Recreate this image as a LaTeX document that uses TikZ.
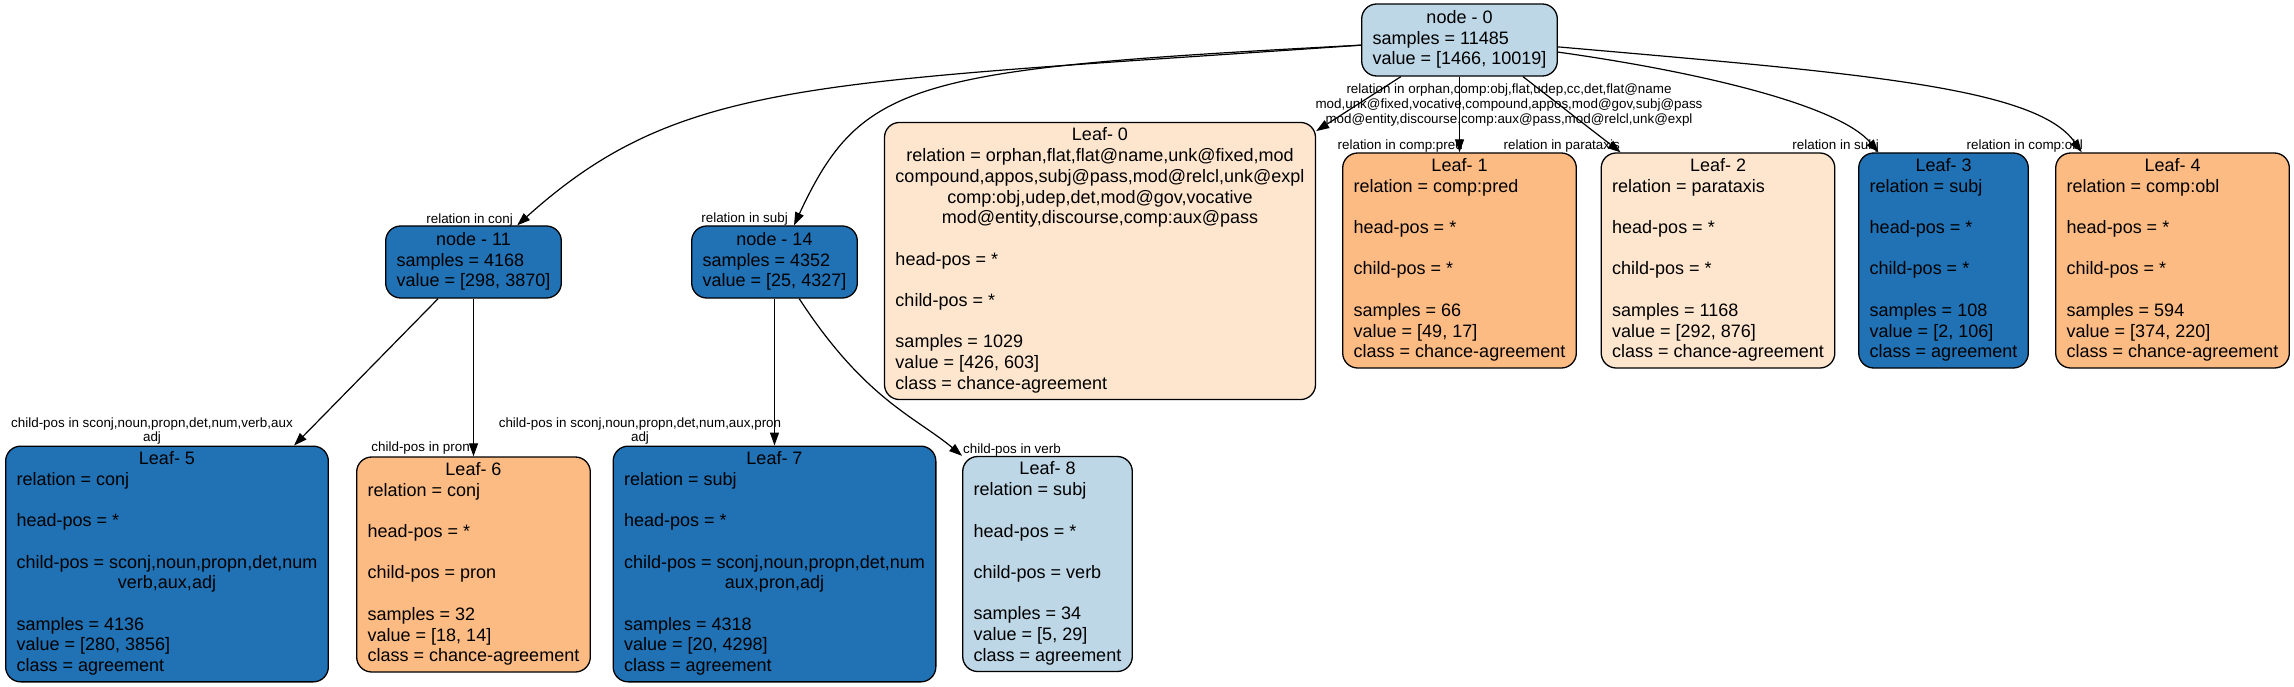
\documentclass[tikz,border=0pt]{standalone}
\usepackage{fontspec}
\setmainfont{Liberation Sans}
\usetikzlibrary{arrows.meta}
\definecolor{paleblue}{HTML}{BDD7E7}
\definecolor{deepblue}{HTML}{2171B5}
\definecolor{palepeach}{HTML}{FEE6CE}
\definecolor{softorange}{HTML}{FDBB84}
\newcommand{\ctrline}[1]{\multicolumn{1}{@{}c@{}}{#1}}
\newcommand{\boxtext}[1]{\begin{tabular}{@{}l@{}}#1\end{tabular}}

\begin{document}
\begin{tikzpicture}
[every node/.style={inner sep=0pt},
 >={Triangle[length=13pt,width=9pt]},
 treebox/.style={rectangle, rounded corners=15pt, line width=1.3pt, draw=black, inner xsep=11pt, inner ysep=4pt, font=\fontsize{18pt}{20.7pt}\selectfont},
 splitbox/.style={treebox, minimum height=72pt},
 edgelabel/.style={font=\fontsize{13.4pt}{14.7pt}\selectfont, align=center},
 flow/.style={line width=1.2pt, ->, color=black}]
\useasboundingbox (0pt, 0pt) rectangle (2294pt, -687pt);
\node (n0) [splitbox, fill=paleblue] at (1459.5pt, -40pt) {\boxtext{\ctrline{node - 0}\\ samples = 11485\\ value = [1466, 10019]}};
\node (n11) [splitbox, fill=deepblue] at (473.5pt, -262pt) {\boxtext{\ctrline{node - 11}\\ samples = 4168\\ value = [298, 3870]}};
\node (n14) [splitbox, fill=deepblue] at (774.5pt, -262pt) {\boxtext{\ctrline{node - 14}\\ samples = 4352\\ value = [25, 4327]}};
\node (L0) [treebox, fill=palepeach] at (1100pt, -261pt) {\boxtext{\ctrline{Leaf- 0}\\ \ctrline{relation = orphan,flat,flat@name,unk@fixed,mod}\\ \ctrline{compound,appos,subj@pass,mod@relcl,unk@expl}\\ \ctrline{comp:obj,udep,det,mod@gov,vocative}\\ \ctrline{mod@entity,discourse,comp:aux@pass}\\ \\ head-pos = *\\ \\ child-pos = *\\ \\ samples = 1029\\ value = [426, 603]\\ class = chance-agreement}};
\node (L1) [treebox, fill=softorange] at (1459.5pt, -260.5pt) {\boxtext{\ctrline{Leaf- 1}\\ relation = comp:pred\\ \\ head-pos = *\\ \\ child-pos = *\\ \\ samples = 66\\ value = [49, 17]\\ class = chance-agreement}};
\node (L2) [treebox, fill=palepeach] at (1718pt, -260.5pt) {\boxtext{\ctrline{Leaf- 2}\\ relation = parataxis\\ \\ head-pos = *\\ \\ child-pos = *\\ \\ samples = 1168\\ value = [292, 876]\\ class = chance-agreement}};
\node (L3) [treebox, fill=deepblue] at (1943.5pt, -260.5pt) {\boxtext{\ctrline{Leaf- 3}\\ relation = subj\\ \\ head-pos = *\\ \\ child-pos = *\\ \\ samples = 108\\ value = [2, 106]\\ class = agreement}};
\node (L4) [treebox, fill=softorange] at (2172.5pt, -260.5pt) {\boxtext{\ctrline{Leaf- 4}\\ relation = comp:obl\\ \\ head-pos = *\\ \\ child-pos = *\\ \\ samples = 594\\ value = [374, 220]\\ class = chance-agreement}};
\node (L5) [treebox, fill=deepblue] at (167pt, -564pt) {\boxtext{\ctrline{Leaf- 5}\\ relation = conj\\ \\ head-pos = *\\ \\ child-pos = sconj,noun,propn,det,num\\ \ctrline{verb,aux,adj}\\ \\ samples = 4136\\ value = [280, 3856]\\ class = agreement}};
\node (L6) [treebox, fill=softorange] at (473.5pt, -564.5pt) {\boxtext{\ctrline{Leaf- 6}\\ relation = conj\\ \\ head-pos = *\\ \\ child-pos = pron\\ \\ samples = 32\\ value = [18, 14]\\ class = chance-agreement}};
\node (L7) [treebox, fill=deepblue] at (774.5pt, -564pt) {\boxtext{\ctrline{Leaf- 7}\\ relation = subj\\ \\ head-pos = *\\ \\ child-pos = sconj,noun,propn,det,num\\ \ctrline{aux,pron,adj}\\ \\ samples = 4318\\ value = [20, 4298]\\ class = agreement}};
\node (L8) [treebox, fill=paleblue] at (1047.5pt, -564pt) {\boxtext{\ctrline{Leaf- 8}\\ relation = subj\\ \\ head-pos = *\\ \\ child-pos = verb\\ \\ samples = 34\\ value = [5, 29]\\ class = agreement}};
\node (t11) [edgelabel, anchor=east] at (513pt, -220pt) {relation in conj};
\node (t14) [edgelabel, anchor=east] at (788pt, -219pt) {relation in subj};
\node (t0) [edgelabel] at (1509pt, -105pt) {relation in orphan,comp:obj,flat,udep,cc,det,flat@name\\mod,unk@fixed,vocative,compound,appos,mod@gov,subj@pass\\mod@entity,discourse,comp:aux@pass,mod@relcl,unk@expl};
\node (t1) [edgelabel, anchor=east] at (1463pt, -146pt) {relation in comp:pred};
\node (t2) [edgelabel, anchor=east] at (1620pt, -146pt) {relation in parataxis};
\node (t3) [edgelabel, anchor=east] at (1879pt, -146pt) {relation in subj};
\node (t4) [edgelabel, anchor=east] at (2083pt, -146pt) {relation in comp:obl};
\node (t5) [edgelabel] at (152pt, -431pt) {child-pos in sconj,noun,propn,det,num,verb,aux\\adj};
\node (t6) [edgelabel, anchor=east] at (470pt, -448pt) {child-pos in pron};
\node (t7) [edgelabel] at (640pt, -431pt) {child-pos in sconj,noun,propn,det,num,aux,pron\\adj};
\node (t8) [edgelabel, anchor=west] at (963pt, -450pt) {child-pos in verb};
\draw [flow] (n0.183) to [out=184, in=42, out distance=550pt, in distance=220pt] (n11.40);
\draw [flow] (n0.183) to [out=183, in=65, out distance=450pt, in distance=160pt] (n14.62);
\draw [flow] (n0.212) to (L0.31);
\draw [flow] (n0.south) to (L1.north);
\draw [flow] (n0.-30) to (L2.132);
\draw [flow] (n0.-7) to [out=-8, in=130, out distance=150pt, in distance=60pt] (L3.121);
\draw [flow] (n0.-4) to [out=-5, in=125, out distance=300pt, in distance=80pt] (L4.130);
\draw [flow] (n11.226) to (L5.43);
\draw [flow] (n11.south) to (L6.north);
\draw [flow] (n14.south) to (L7.north);
\draw [flow] (n14.-56) to [out=-57, in=140, out distance=120pt, in distance=60pt] (L8.north west);
\end{tikzpicture}
\end{document}
